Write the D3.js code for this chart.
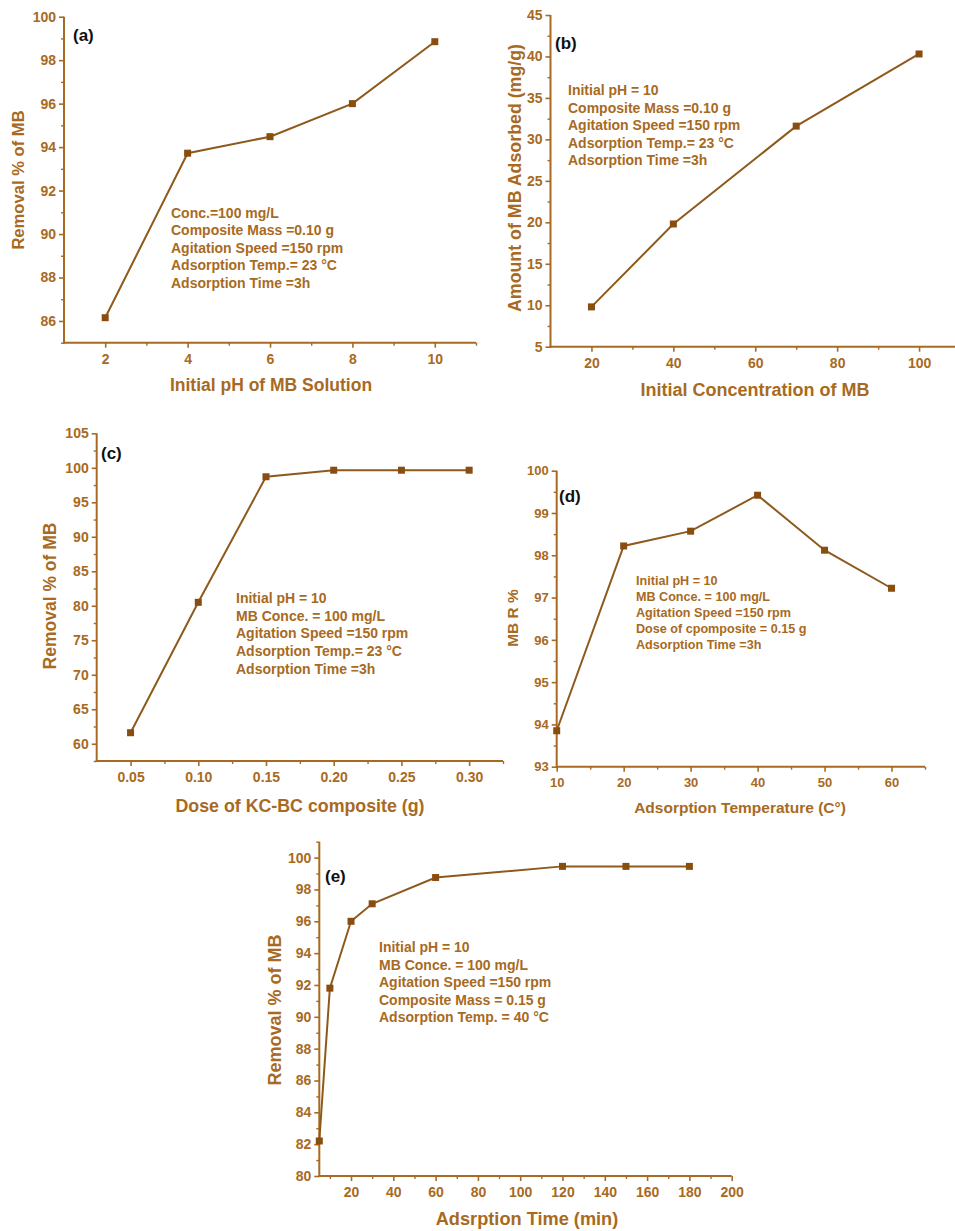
<!DOCTYPE html>
<html>
<head>
<meta charset="utf-8">
<script src="https://cdn.jsdelivr.net/npm/d3@7"></script>
<style>
  html, body { margin: 0; padding: 0; background: #ffffff; }
  svg { display: block; }
  text { font-family: "Liberation Sans", Arial, sans-serif; font-weight: bold; }
</style>
</head>
<body>
<svg id="chart" width="955" height="1231"></svg>
<script>
// ---------- DATA ----------
// (a) effect of initial pH
const phValues = [2, 4, 6, 8, 10];
const phRemoval = [86.15, 93.72, 94.48, 96.0, 98.85];
const phXTicks = [2, 4, 6, 8, 10];
const phYTicks = [86, 88, 90, 92, 94, 96, 98, 100];
const phNotes = ["Conc.=100 mg/L", "Composite Mass =0.10 g", "Agitation Speed =150 rpm", "Adsorption Temp.= 23 °C", "Adsorption Time =3h"];

// (b) effect of initial concentration
const concValues = [20, 40, 70, 100];
const concAdsorbed = [9.8, 19.8, 31.6, 40.3];
const concXTicks = [20, 40, 60, 80, 100];
const concYTicks = [5, 10, 15, 20, 25, 30, 35, 40, 45];
const concNotes = ["Initial pH = 10", "Composite Mass =0.10 g", "Agitation Speed =150 rpm", "Adsorption Temp.= 23 °C", "Adsorption Time =3h"];

// (c) effect of composite dose
const doseValues = [0.05, 0.10, 0.15, 0.20, 0.25, 0.30];
const doseRemoval = [61.6, 80.5, 98.7, 99.65, 99.65, 99.65];
const doseXTicks = [0.05, 0.10, 0.15, 0.20, 0.25, 0.30];
const doseYTicks = [60, 65, 70, 75, 80, 85, 90, 95, 100, 105];
const doseNotes = ["Initial pH = 10", "MB Conce. = 100 mg/L", "Agitation Speed =150 rpm", "Adsorption Temp.= 23 °C", "Adsorption Time =3h"];

// (d) effect of temperature
const tempValues = [10, 20, 30, 40, 50, 60];
const tempRemoval = [93.85, 98.22, 98.57, 99.42, 98.12, 97.22];
const tempXTicks = [10, 20, 30, 40, 50, 60];
const tempYTicks = [93, 94, 95, 96, 97, 98, 99, 100];
const tempNotes = ["Initial pH = 10", "MB Conce. = 100 mg/L", "Agitation Speed =150 rpm", "Dose of cpomposite = 0.15 g", "Adsorption Time =3h"];

// (e) effect of contact time
const timeValues = [5, 10, 20, 30, 60, 120, 150, 180];
const timeRemoval = [82.2, 91.8, 96.0, 97.1, 98.75, 99.45, 99.45, 99.45];
const timeXTicks = [20, 40, 60, 80, 100, 120, 140, 160, 180, 200];
const timeYTicks = [80, 82, 84, 86, 88, 90, 92, 94, 96, 98, 100];
const timeNotes = ["Initial pH = 10", "MB Conce. = 100 mg/L", "Agitation Speed =150 rpm", "Composite Mass = 0.15 g", "Adsorption Temp. = 40 °C"];

// ---------- STYLE ----------
const TEXT_COLOR = "#a86a22";
const AXIS_COLOR = "#a86a22";
const LINE_COLOR = "#8e5a1c";
const MARK_COLOR = "#8a4d10";

const svg = d3.select("#chart");

function drawPanel(p) {
  const g = svg.append("g");
  const x = d3.scaleLinear().domain(p.xDomain).range([p.left, p.right]);
  const y = d3.scaleLinear().domain(p.yDomain).range([p.bottom, p.top]);
  const tf = p.tickFont || 14;

  // x axis
  const xAxis = d3.axisBottom(x).tickValues(p.xTicks).tickSize(5).tickPadding(6)
    .tickFormat(p.xFormat || d3.format("d"));
  const gx = g.append("g").attr("transform", `translate(0,${p.bottom})`).call(xAxis);
  gx.select(".domain").remove();
  gx.append("line").attr("x1", p.left - 1).attr("x2", p.right).attr("y1", 0).attr("y2", 0)
    .attr("stroke", AXIS_COLOR).attr("stroke-width", 2);
  gx.selectAll(".tick line").attr("stroke", AXIS_COLOR).attr("stroke-width", 1.6);
  gx.selectAll(".tick text").attr("fill", TEXT_COLOR).attr("font-size", tf)
    .attr("font-family", "Liberation Sans, Arial, sans-serif").attr("font-weight", "bold");
  const xMinor = d3.axisBottom(x).tickValues(p.xMinor).tickSize(3).tickFormat("");
  const gxm = g.append("g").attr("transform", `translate(0,${p.bottom})`).call(xMinor);
  gxm.select(".domain").remove();
  gxm.selectAll(".tick line").attr("stroke", AXIS_COLOR).attr("stroke-width", 1.4);

  // y axis
  const yAxis = d3.axisLeft(y).tickValues(p.yTicks).tickSize(5).tickPadding(3)
    .tickFormat(p.yFormat || d3.format("d"));
  const gy = g.append("g").attr("transform", `translate(${p.left},0)`).call(yAxis);
  gy.select(".domain").remove();
  gy.append("line").attr("x1", 0).attr("x2", 0).attr("y1", p.top).attr("y2", p.bottom + 1)
    .attr("stroke", AXIS_COLOR).attr("stroke-width", 2);
  gy.selectAll(".tick line").attr("stroke", AXIS_COLOR).attr("stroke-width", 1.6);
  gy.selectAll(".tick text").attr("fill", TEXT_COLOR).attr("font-size", tf)
    .attr("font-family", "Liberation Sans, Arial, sans-serif").attr("font-weight", "bold");
  const yMinor = d3.axisLeft(y).tickValues(p.yMinor).tickSize(3).tickFormat("");
  const gym = g.append("g").attr("transform", `translate(${p.left},0)`).call(yMinor);
  gym.select(".domain").remove();
  gym.selectAll(".tick line").attr("stroke", AXIS_COLOR).attr("stroke-width", 1.4);

  // line + markers
  const pts = p.xs.map((v, i) => [v, p.ys[i]]);
  g.append("path").datum(pts)
    .attr("d", d3.line().x(d => x(d[0])).y(d => y(d[1])))
    .attr("fill", "none").attr("stroke", LINE_COLOR).attr("stroke-width", 2);
  const ms = 7;
  g.selectAll("rect.mk").data(pts).enter().append("rect")
    .attr("x", d => x(d[0]) - ms / 2).attr("y", d => y(d[1]) - ms / 2)
    .attr("width", ms).attr("height", ms).attr("fill", MARK_COLOR);

  // panel tag
  g.append("text").attr("x", p.tag[0]).attr("y", p.tag[1]).text(p.tagText)
    .attr("fill", "#111").attr("font-size", 17);

  // notes
  const nt = g.append("text").attr("fill", TEXT_COLOR).attr("font-size", p.noteFont || 14);
  p.notes.forEach((s, i) => {
    nt.append("tspan").attr("x", p.noteX).attr("y", p.noteY + i * p.noteDy).text(s);
  });

  // axis titles
  g.append("text").attr("x", p.xTitle[0]).attr("y", p.xTitle[1]).attr("text-anchor", "middle")
    .attr("fill", TEXT_COLOR).attr("font-size", p.xTitleFont || 17).text(p.xLabel);
  g.append("text").attr("transform", `translate(${p.yTitle[0]},${p.yTitle[1]}) rotate(-90)`)
    .attr("text-anchor", "middle").attr("fill", TEXT_COLOR).attr("font-size", p.yTitleFont || 17)
    .text(p.yLabel);
}

// (a)
drawPanel({
  xs: phValues, ys: phRemoval,
  xDomain: [1, 11], yDomain: [85, 100],
  left: 64, right: 476, top: 16.7, bottom: 342.7,
  xTicks: phXTicks, xMinor: [3, 5, 7, 9, 11],
  yTicks: phYTicks, yMinor: [85, 87, 89, 91, 93, 95, 97, 99],
  tag: [73, 41], tagText: "(a)",
  notes: phNotes, noteX: 171, noteY: 218, noteDy: 17.4,
  xLabel: "Initial pH of MB Solution", xTitle: [271, 391], xTitleFont: 17.5,
  yLabel: "Removal % of MB", yTitle: [24, 180], yTitleFont: 16.6
});

// (b)
drawPanel({
  xs: concValues, ys: concAdsorbed,
  xDomain: [10, 110], yDomain: [5, 45],
  left: 550.5, right: 960, top: 15, bottom: 346.7,
  xTicks: concXTicks, xMinor: [30, 50, 70, 90, 110],
  yTicks: concYTicks, yMinor: [7.5, 12.5, 17.5, 22.5, 27.5, 32.5, 37.5, 42.5],
  tag: [555, 49], tagText: "(b)",
  notes: concNotes, noteX: 568, noteY: 95, noteDy: 17.6,
  xLabel: "Initial Concentration of MB", xTitle: [755, 396], xTitleFont: 18,
  yLabel: "Amount of MB Adsorbed (mg/g)", yTitle: [521, 178], yTitleFont: 17.8
});

// (c)
drawPanel({
  xs: doseValues, ys: doseRemoval,
  xDomain: [0.025, 0.325], yDomain: [57.5, 105],
  left: 96.7, right: 503, top: 433.3, bottom: 761,
  xTicks: doseXTicks, xMinor: [0.075, 0.125, 0.175, 0.225, 0.275, 0.325],
  yTicks: doseYTicks, yMinor: [57.5, 62.5, 67.5, 72.5, 77.5, 82.5, 87.5, 92.5, 97.5, 102.5],
  xFormat: d3.format(".2f"),
  tag: [101, 459], tagText: "(c)",
  notes: doseNotes, noteX: 236, noteY: 603, noteDy: 17.7,
  xLabel: "Dose of KC-BC composite (g)", xTitle: [300, 812], xTitleFont: 17.8,
  yLabel: "Removal % of MB", yTitle: [56, 596], yTitleFont: 17.5
});

// (d)
drawPanel({
  xs: tempValues, ys: tempRemoval,
  xDomain: [10, 65], yDomain: [93, 100],
  left: 556.7, right: 925, top: 470.7, bottom: 766.7,
  xTicks: tempXTicks, xMinor: [15, 25, 35, 45, 55, 65],
  yTicks: tempYTicks, yMinor: [93.5, 94.5, 95.5, 96.5, 97.5, 98.5, 99.5],
  tickFont: 13,
  tag: [559, 502], tagText: "(d)",
  notes: tempNotes, noteX: 636, noteY: 585, noteDy: 15.9, noteFont: 12.6,
  xLabel: "Adsorption Temperature (C°)", xTitle: [740, 813], xTitleFont: 15.5,
  yLabel: "MB R %", yTitle: [518, 618], yTitleFont: 15.5
});

// (e)
drawPanel({
  xs: timeValues, ys: timeRemoval,
  xDomain: [5, 200], yDomain: [80, 101],
  left: 319.3, right: 731.7, top: 841.7, bottom: 1176,
  xTicks: timeXTicks, xMinor: [10, 30, 50, 70, 90, 110, 130, 150, 170, 190],
  yTicks: timeYTicks, yMinor: [81, 83, 85, 87, 89, 91, 93, 95, 97, 99, 101],
  tag: [325, 882], tagText: "(e)",
  notes: timeNotes, noteX: 379, noteY: 952, noteDy: 17.6,
  xLabel: "Adsrption Time (min)", xTitle: [527, 1225], xTitleFont: 18.2,
  yLabel: "Removal % of MB", yTitle: [281, 1010], yTitleFont: 18
});
</script>
</body>
</html>
